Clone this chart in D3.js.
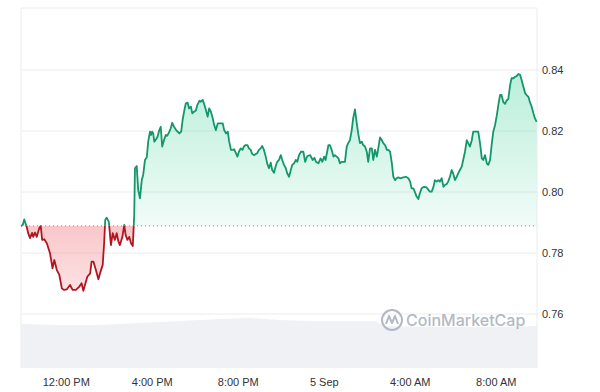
<!DOCTYPE html>
<html><head><meta charset="utf-8">
<script src="https://cdn.jsdelivr.net/npm/d3@7"></script>
<style>html,body{margin:0;padding:0;background:#fff;}svg{display:block;}</style>
</head><body><svg id="c" width="600" height="392"></svg>
<script>
// minutes after 04 Sep 09:55
const minutes = [0,5,9,16,20,25,31,34,39,44,51,55,59,65,72,81,88,93,100,107,114,120,128,137,144,153,163,169,174,185,193,197,202,209,216,222,228,232,235,239,245,251,256,262,267,272,276,283,288,292,297,302,307,312,316,318,323,327,332,337,341,346,351,355,360,363,366,369,372,377,381,386,390,394,399,404,408,414,418,422,427,433,437,442,447,451,456,460,465,469,474,478,483,488,492,498,502,507,512,516,521,525,530,535,539,544,549,553,563,567,572,577,581,586,591,595,600,604,608,613,618,622,627,632,636,641,645,650,659,664,669,673,678,683,687,692,697,701,706,711,715,720,725,729,734,739,743,748,753,757,762,767,771,776,781,788,793,799,807,814,819,823,830,836,841,846,850,858,862,867,872,876,881,886,890,895,904,909,913,918,923,927,932,937,941,946,951,955,960,965,969,974,979,983,988,993,997,1002,1007,1011,1016,1021,1025,1030,1035,1039,1044,1048,1053,1058,1067,1074,1081,1086,1090,1095,1100,1104,1109,1113,1118,1125,1132,1137,1141,1146,1151,1155,1160,1165,1169,1174,1179,1183,1188,1192,1197,1202,1206,1211,1216,1220,1225,1230,1234,1239,1244,1248,1253,1258,1262,1276,1281,1286,1290,1295,1300,1304,1309,1314,1318,1323,1328,1332,1337,1341,1346,1351,1355,1360,1365,1369,1374,1379,1383,1388,1393,1397,1402,1407,1411,1416,1420,1425,1430,1434,1439];
const prices = [0.7889,0.7892,0.7910,0.7886,0.7865,0.7849,0.7866,0.7853,0.7867,0.7853,0.7881,0.7889,0.7843,0.7845,0.7832,0.7799,0.7750,0.7777,0.7744,0.7728,0.7684,0.7679,0.7681,0.7695,0.7679,0.7679,0.7690,0.7701,0.7676,0.7722,0.7733,0.7772,0.7772,0.7744,0.7714,0.7739,0.7761,0.7832,0.7908,0.7916,0.7903,0.7826,0.7865,0.7843,0.7865,0.7837,0.7826,0.7853,0.7892,0.7859,0.7843,0.7853,0.7832,0.7823,0.7925,0.8078,0.8085,0.8007,0.7979,0.8039,0.8056,0.8105,0.8114,0.8165,0.8198,0.8187,0.8198,0.8192,0.8165,0.8173,0.8181,0.8203,0.8214,0.8149,0.8170,0.8187,0.8184,0.8198,0.8209,0.8227,0.8214,0.8203,0.8198,0.8192,0.8198,0.8236,0.8269,0.8291,0.8293,0.8274,0.8280,0.8258,0.8263,0.8267,0.8285,0.8299,0.8296,0.8302,0.8285,0.8269,0.8247,0.8274,0.8263,0.8242,0.8220,0.8203,0.8225,0.8225,0.8225,0.8203,0.8192,0.8198,0.8165,0.8138,0.8138,0.8140,0.8127,0.8116,0.8132,0.8143,0.8138,0.8149,0.8154,0.8154,0.8143,0.8138,0.8125,0.8121,0.8127,0.8138,0.8143,0.8151,0.8138,0.8116,0.8094,0.8078,0.8096,0.8072,0.8063,0.8085,0.8099,0.8105,0.8121,0.8105,0.8089,0.8078,0.8061,0.8050,0.8072,0.8089,0.8094,0.8105,0.8099,0.8121,0.8132,0.8132,0.8099,0.8118,0.8121,0.8105,0.8112,0.8099,0.8094,0.8110,0.8099,0.8116,0.8105,0.8154,0.8154,0.8138,0.8116,0.8121,0.8116,0.8110,0.8094,0.8099,0.8099,0.8149,0.8160,0.8170,0.8203,0.8242,0.8271,0.8225,0.8192,0.8160,0.8165,0.8154,0.8149,0.8132,0.8099,0.8143,0.8143,0.8105,0.8138,0.8116,0.8143,0.8179,0.8170,0.8160,0.8154,0.8138,0.8138,0.8132,0.8094,0.8050,0.8039,0.8045,0.8048,0.8045,0.8048,0.8050,0.8045,0.8034,0.8012,0.8012,0.7998,0.7985,0.7977,0.7996,0.8012,0.8017,0.8015,0.8007,0.8001,0.8001,0.8017,0.8039,0.8034,0.8039,0.8034,0.8045,0.8017,0.8023,0.8026,0.8034,0.8050,0.8072,0.8061,0.8039,0.8050,0.8061,0.8072,0.8083,0.8105,0.8132,0.8170,0.8160,0.8149,0.8170,0.8198,0.8198,0.8160,0.8110,0.8105,0.8121,0.8094,0.8089,0.8105,0.8160,0.8198,0.8220,0.8252,0.8285,0.8318,0.8318,0.8295,0.8289,0.8300,0.8305,0.8351,0.8373,0.8373,0.8378,0.8380,0.8387,0.8384,0.8367,0.8345,0.8324,0.8318,0.8312,0.8296,0.8280,0.8258,0.8242,0.8230];
const openPrice = 0.7889;
// 24h volume (billions), sampled
const volMinutes = [0,109,220,332,444,555,639,723,806,890,988,1016,1113,1225,1336,1440];
const volValues = [1.34,1.31,1.31,1.37,1.43,1.49,1.52,1.46,1.43,1.43,1.43,1.28,1.25,1.25,1.25,1.28];
const yTicks = [0.76,0.78,0.80,0.82,0.84];
const xTickTimes = ["2024-09-04T12:00","2024-09-04T16:00","2024-09-04T20:00","2024-09-05T00:00","2024-09-05T04:00","2024-09-05T08:00"];
const xTickLabels = ["12:00 PM","4:00 PM","8:00 PM","5 Sep","4:00 AM","8:00 AM"];

const start = new Date(2024,8,4,9,55);
const toDate = m => new Date(start.getTime()+m*60000);
const parse = d3.timeParse("%Y-%m-%dT%H:%M");
const data = minutes.map((m,i)=>({t:toDate(m),v:prices[i]}));
const vol = volMinutes.map((m,i)=>({t:toDate(m),v:volValues[i]}));

const L=21,R=537,T=8,B=368;
const x = d3.scaleTime().domain([start,toDate(1440)]).range([L,R]);
const y = d3.scaleLinear().domain([0.76,0.84]).range([314,70]);
const yv = d3.scaleLinear().domain([0,1.55]).range([B,317]);
const baseY = y(openPrice);

const svg = d3.select("#c");
const defs = svg.append("defs");
const gg = defs.append("linearGradient").attr("id","gG").attr("gradientUnits","userSpaceOnUse")
  .attr("x1",0).attr("x2",0).attr("y1",y(0.84)).attr("y2",baseY);
gg.append("stop").attr("offset",0).attr("stop-color","#16c784").attr("stop-opacity",0.3);
gg.append("stop").attr("offset",1).attr("stop-color","#16c784").attr("stop-opacity",0.06);
const rg = defs.append("linearGradient").attr("id","rG").attr("gradientUnits","userSpaceOnUse")
  .attr("x1",0).attr("x2",0).attr("y1",baseY).attr("y2",y(0.766));
rg.append("stop").attr("offset",0).attr("stop-color","#ea3943").attr("stop-opacity",0.28);
rg.append("stop").attr("offset",1).attr("stop-color","#ea3943").attr("stop-opacity",0.14);
defs.append("clipPath").attr("id","cAbove").append("rect").attr("x",0).attr("y",0).attr("width",600).attr("height",baseY);
defs.append("clipPath").attr("id","cBelow").append("rect").attr("x",0).attr("y",baseY).attr("width",600).attr("height",392-baseY);

// frame
svg.append("line").attr("x1",L).attr("x2",R).attr("y1",T).attr("y2",T).attr("stroke","#ececec");
svg.append("line").attr("x1",L).attr("x2",L).attr("y1",T).attr("y2",B).attr("stroke","#ececec");
svg.append("line").attr("x1",R).attr("x2",R).attr("y1",T).attr("y2",B).attr("stroke","#ececec");

// volume
svg.append("path").datum(vol)
  .attr("d",d3.area().x(d=>x(d.t)).y0(B).y1(d=>yv(d.v)))
  .attr("fill","#eff1f4");

// grid
svg.append("g").selectAll("line").data(yTicks).join("line")
  .attr("x1",L).attr("x2",R).attr("y1",d=>y(d)).attr("y2",d=>y(d))
  .attr("stroke","#ececec").attr("stroke-width",1);

// watermark
const wm = svg.append("g").attr("transform","translate(392,320)");
wm.append("circle").attr("r",10).attr("fill","none").attr("stroke","#b3b9c4").attr("stroke-width",2);
wm.append("path").attr("d","M-6,4 L-3,-4 L0,3 L3,-4 L6,4").attr("fill","none").attr("stroke","#b3b9c4").attr("stroke-width",2).attr("stroke-linejoin","round");
wm.append("text").attr("x",14).attr("y",6).text("CoinMarketCap")
  .attr("font-family","Inter, 'Open Sans', sans-serif").attr("font-size",16).attr("font-weight",500).attr("fill","#b3b9c4");

// areas
const area = d3.area().x(d=>x(d.t)).y0(baseY).y1(d=>y(d.v));
svg.append("path").datum(data).attr("d",area).attr("fill","url(#gG)").attr("clip-path","url(#cAbove)");
svg.append("path").datum(data).attr("d",area).attr("fill","url(#rG)").attr("clip-path","url(#cBelow)");

// baseline
svg.append("line").attr("x1",L).attr("x2",R).attr("y1",baseY).attr("y2",baseY)
  .attr("stroke","#8a8f98").attr("stroke-width",1).attr("stroke-dasharray","1,3");

// lines
const line = d3.line().x(d=>x(d.t)).y(d=>y(d.v));
svg.append("path").datum(data).attr("d",line).attr("fill","none").attr("stroke","#11976a").attr("stroke-width",1.8).attr("stroke-linejoin","round").attr("clip-path","url(#cAbove)");
svg.append("path").datum(data).attr("d",line).attr("fill","none").attr("stroke","#b0161f").attr("stroke-width",1.8).attr("stroke-linejoin","round").attr("clip-path","url(#cBelow)");

// y axis
const ya = svg.append("g").attr("transform",`translate(${R},0)`)
  .call(d3.axisRight(y).tickValues(yTicks).tickFormat(d3.format(".2f")).tickSize(0).tickPadding(5));
ya.select(".domain").remove();
ya.selectAll("text").attr("font-family","'Liberation Sans', Arial, sans-serif").attr("font-size",11).attr("fill","#333");

// x axis
const xa = svg.append("g").attr("transform",`translate(0,${B})`)
  .call(d3.axisBottom(x).tickValues(xTickTimes.map(parse)).tickFormat((d,i)=>xTickLabels[i]).tickSize(0).tickPadding(10));
xa.select(".domain").remove();
xa.selectAll("text").attr("font-family","'Liberation Sans', Arial, sans-serif").attr("font-size",11).attr("fill","#333");
</script></body></html>
